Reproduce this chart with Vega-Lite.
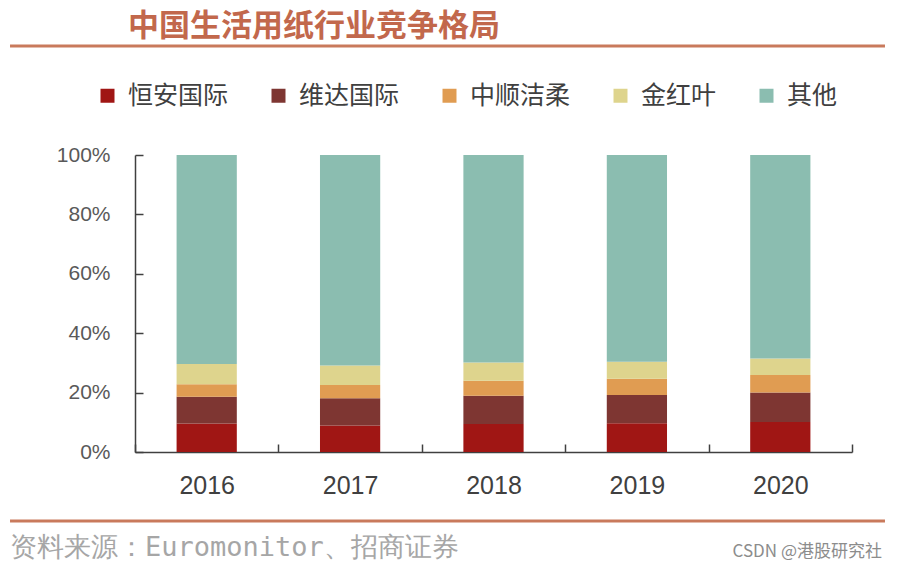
{
  "$schema": "https://vega.github.io/schema/vega-lite/v6.json",
  "width": 717,
  "height": 297,
  "autosize": {"type": "none"},
  "padding": {"left": 135, "top": 155, "right": 45, "bottom": 121},
  "background": "white",
  "title": {
    "text": "中国生活用纸行业竞争格局",
    "anchor": "start",
    "frame": "group",
    "font": "Noto Sans CJK SC",
    "fontSize": 31,
    "fontWeight": "bold",
    "color": "#c2684c",
    "offset": 2,
    "dx": -7
  },
  "layer": [
    {
      "data": {
        "values": [
          {"year": "2016", "company": "恒安国际", "share": 9.6},
          {"year": "2016", "company": "维达国际", "share": 9.0},
          {"year": "2016", "company": "中顺洁柔", "share": 4.2},
          {"year": "2016", "company": "金红叶", "share": 6.8},
          {"year": "2016", "company": "其他", "share": 70.4},
          {"year": "2017", "company": "恒安国际", "share": 8.9},
          {"year": "2017", "company": "维达国际", "share": 9.2},
          {"year": "2017", "company": "中顺洁柔", "share": 4.5},
          {"year": "2017", "company": "金红叶", "share": 6.5},
          {"year": "2017", "company": "其他", "share": 70.9},
          {"year": "2018", "company": "恒安国际", "share": 9.4},
          {"year": "2018", "company": "维达国际", "share": 9.5},
          {"year": "2018", "company": "中顺洁柔", "share": 5.1},
          {"year": "2018", "company": "金红叶", "share": 6.1},
          {"year": "2018", "company": "其他", "share": 69.9},
          {"year": "2019", "company": "恒安国际", "share": 9.7},
          {"year": "2019", "company": "维达国际", "share": 9.5},
          {"year": "2019", "company": "中顺洁柔", "share": 5.5},
          {"year": "2019", "company": "金红叶", "share": 5.7},
          {"year": "2019", "company": "其他", "share": 69.6},
          {"year": "2020", "company": "恒安国际", "share": 10.1},
          {"year": "2020", "company": "维达国际", "share": 9.9},
          {"year": "2020", "company": "中顺洁柔", "share": 5.9},
          {"year": "2020", "company": "金红叶", "share": 5.6},
          {"year": "2020", "company": "其他", "share": 68.5}
        ]
      },
      "transform": [
        {"calculate": "indexof(['恒安国际', '维达国际', '中顺洁柔', '金红叶', '其他'], datum.company)", "as": "stackOrder"}
      ],
      "mark": {"type": "bar", "width": {"band": 0.42}},
      "encoding": {
        "x": {
          "field": "year",
          "type": "nominal",
          "scale": {"paddingInner": 0, "paddingOuter": 0},
          "axis": {
            "title": null,
            "labelAngle": 0,
            "tickBand": "extent",
            "tickSize": -8,
            "tickColor": "#404040",
            "tickWidth": 1.5,
            "domainColor": "#404040",
            "domainWidth": 1.5,
            "labelFont": "Liberation Sans",
            "labelFontSize": 25,
            "labelColor": "#404040",
            "labelPadding": 29
          }
        },
        "y": {
          "field": "share",
          "type": "quantitative",
          "stack": "zero",
          "scale": {"domain": [0, 100], "nice": false},
          "axis": {
            "title": null,
            "values": [0, 20, 40, 60, 80, 100],
            "labelExpr": "datum.value + '%'",
            "grid": false,
            "tickSize": -8,
            "tickColor": "#404040",
            "tickWidth": 1.5,
            "domainColor": "#404040",
            "domainWidth": 1.5,
            "labelFont": "Liberation Sans",
            "labelFontSize": 21,
            "labelColor": "#595959",
            "labelPadding": 33
          }
        },
        "order": {"field": "stackOrder", "type": "quantitative", "sort": "ascending"},
        "color": {
          "field": "company",
          "type": "nominal",
          "sort": ["恒安国际", "维达国际", "中顺洁柔", "金红叶", "其他"],
          "scale": {
            "domain": ["恒安国际", "维达国际", "中顺洁柔", "金红叶", "其他"],
            "range": ["#a01614", "#7e3632", "#e09c52", "#ded48d", "#8bbdb0"]
          },
          "legend": {
            "title": null,
            "orient": "none",
            "direction": "horizontal",
            "legendX": -40,
            "legendY": -72,
            "padding": 0,
            "symbolType": "square",
            "symbolSize": 196,
            "symbolStrokeWidth": 0,
            "labelFont": "Noto Sans CJK SC",
            "labelFontSize": 25,
            "labelColor": "#404040",
            "labelOffset": 8,
            "columnPadding": 37
          }
        }
      }
    },
    {
      "data": {"values": [{"label": "top"}]},
      "mark": {"type": "rule", "color": "#c97a5c", "strokeWidth": 3},
      "encoding": {
        "x": {"datum": -0.1743, "type": "quantitative", "scale": {"domain": [0, 1], "nice": false, "zero": false}, "axis": null},
        "x2": {"datum": 1.046},
        "y": {"datum": 1.367, "type": "quantitative", "scale": {"domain": [0, 1], "nice": false, "zero": false}, "axis": null}
      }
    },
    {
      "data": {"values": [{"label": "bottom"}]},
      "mark": {"type": "rule", "color": "#c97a5c", "strokeWidth": 3},
      "encoding": {
        "x": {"datum": -0.1743, "type": "quantitative", "scale": {"domain": [0, 1], "nice": false, "zero": false}, "axis": null},
        "x2": {"datum": 1.046},
        "y": {"datum": -0.232, "type": "quantitative", "scale": {"domain": [0, 1], "nice": false, "zero": false}, "axis": null}
      }
    },
    {
      "data": {"values": [{"text": "资料来源：Euromonitor、招商证券"}]},
      "mark": {"type": "text", "align": "left", "baseline": "middle", "font": "DejaVu Sans Mono", "fontSize": 27, "color": "#a6a6a6"},
      "encoding": {
        "x": {"datum": -0.1743, "type": "quantitative", "scale": {"domain": [0, 1], "nice": false, "zero": false}, "axis": null},
        "y": {"datum": -0.323, "type": "quantitative", "scale": {"domain": [0, 1], "nice": false, "zero": false}, "axis": null},
        "text": {"field": "text"}
      }
    },
    {
      "data": {"values": [{"text": "CSDN @港股研究社"}]},
      "mark": {"type": "text", "align": "right", "baseline": "middle", "font": "Noto Sans CJK SC", "fontSize": 17, "color": "#8c8c8c"},
      "encoding": {
        "x": {"datum": 1.0418, "type": "quantitative", "scale": {"domain": [0, 1], "nice": false, "zero": false}, "axis": null},
        "y": {"datum": -0.337, "type": "quantitative", "scale": {"domain": [0, 1], "nice": false, "zero": false}, "axis": null},
        "text": {"field": "text"}
      }
    }
  ],
  "resolve": {"scale": {"x": "independent", "y": "independent"}},
  "config": {"view": {"stroke": null}}
}
